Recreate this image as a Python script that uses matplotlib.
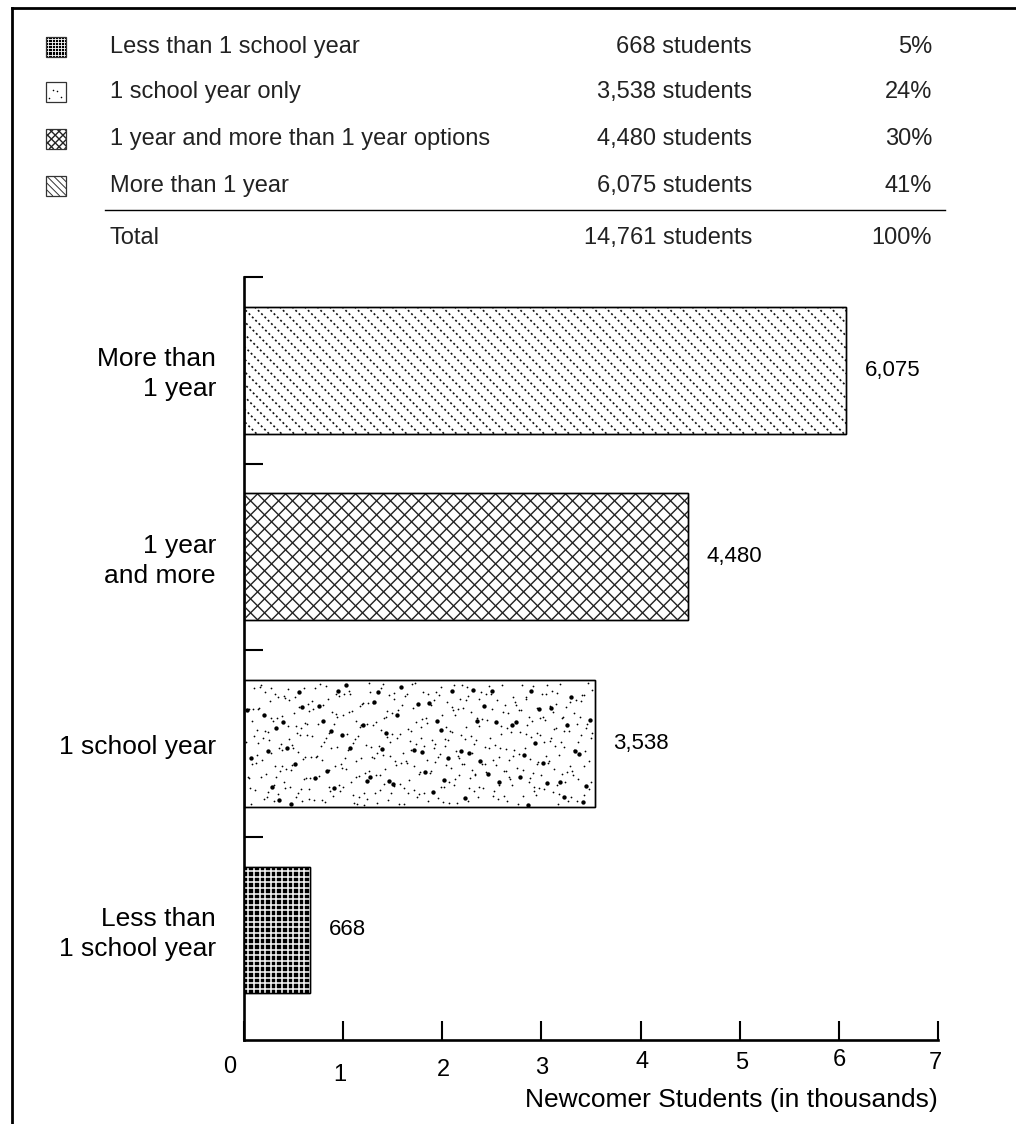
import numpy as np
import matplotlib
matplotlib.use("Agg")
import matplotlib.pyplot as plt
from matplotlib.patches import Rectangle
from matplotlib.collections import LineCollection
from matplotlib.lines import Line2D
from matplotlib.transforms import blended_transform_factory

# ---------------- data ----------------
categories = ["Less than\n1 school year", "1 school year", "1 year\nand more", "More than\n1 year"]
values = [668, 3538, 4480, 6075]
value_labels = ["668", "3,538", "4,480", "6,075"]

legend_names = ["Less than 1 school year", "1 school year only",
                "1 year and more than 1 year options", "More than 1 year"]
legend_counts = ["668 students", "3,538 students", "4,480 students", "6,075 students"]
legend_pcts = ["5%", "24%", "30%", "41%"]
total_name = "Total"
total_count = "14,761 students"
total_pct = "100%"

xtick_values = [0, 1, 2, 3, 4, 5, 6, 7]
xtick_labels = ["0", "1", "2", "3", "4", "5", "6", "7"]
xlabel = "Newcomer Students (in thousands)"

patterns = ["grid", "dots", "cross", "diag"]   # bar style per category (bottom to top)

# ---------------- layout (pixels) ----------------
W, H = 1016, 1124
plt.rcParams['font.family'] = ['Liberation Sans', 'DejaVu Sans']
fig = plt.figure(figsize=(W / 100, H / 100), dpi=100)

FS_LEG = 17.0
FS_CAT = 19.0
FS_VAL = 16.0
FS_TICK = 17.0
FS_XLAB = 19.0


def fx(px):
    return px / W


def fy(py):
    return 1 - py / H


ax_left, ax_right, ax_top, ax_bottom = 244, 938, 277, 1040
ax = fig.add_axes([fx(ax_left), fy(ax_bottom), fx(ax_right - ax_left), (ax_bottom - ax_top) / H])
ax.set_xlim(0, 7)
ax.set_ylim(-0.59, 3.5)
fig.canvas.draw()


def px_to_data(a, pts):
    return a.transData.inverted().transform(pts)


def apply_pattern(a, rect, kind, scale=1.0):
    """Draw a texture clipped to rect (pattern computed in pixel space)."""
    bb = rect.get_window_extent(fig.canvas.get_renderer())
    x0, y0, x1, y1 = bb.x0, bb.y0, bb.x1, bb.y1
    w, h = x1 - x0, y1 - y0
    arts = []
    if kind == "grid":
        rect.set_facecolor("black")
        step = 5.6 * scale
        segs = []
        xs = np.arange(x0 + step * 0.8, x1, step)
        ys = np.arange(y0 + step * 0.8, y1, step)
        for xv in xs:
            segs.append([(xv, y0), (xv, y1)])
        for yv in ys:
            segs.append([(x0, yv), (x1, yv)])
        segs = [px_to_data(a, np.array(s)) for s in segs]
        arts.append(LineCollection(segs, colors="white", linewidths=1.1 * scale, zorder=3))
    elif kind == "cross":
        step = 14.0 * scale
        segs = []
        for c in np.arange(x0 - h - step, x1 + h + step, step):
            segs.append([(c, y0), (c + h, y1)])
            segs.append([(c, y1), (c + h, y0)])
        segs = [px_to_data(a, np.array(s)) for s in segs]
        arts.append(LineCollection(segs, colors="#222222", linewidths=1.0, zorder=3))
    elif kind == "diag":
        step = 12.5 * scale
        segs = []
        for c in np.arange(x0 - h - step, x1 + h + step, step):
            segs.append([(c, y1), (c + h, y0)])
        segs = [px_to_data(a, np.array(s)) for s in segs]
        if scale < 1:
            arts.append(LineCollection(segs, colors="#333333", linewidths=0.7, zorder=3))
        else:
            arts.append(LineCollection(segs, colors="#111111", linewidths=1.2,
                                       linestyles=[(0, (1.2, 1.6))], zorder=3))
    elif kind == "dots":
        n_small = int(w * h / 95)
        n_big = int(w * h / 650)
        a1, a2 = 0.7548776662466927, 0.5698402909980532
        k = np.arange(1, n_small + n_big + 1)
        u = (0.31 + k * a1) % 1.0
        v = (0.17 + k * a2 + 0.37 * np.sin(k * 1.7)) % 1.0
        pts = np.column_stack([x0 + 2 + u * (w - 4), y0 + 2 + v * (h - 4)])
        dat = px_to_data(a, pts)
        big = (k % 7) == 0
        s_small = 1.6 * max(scale, 0.8)
        s_big = 4.5 * max(scale, 0.8)
        arts.append(a.scatter(dat[~big, 0], dat[~big, 1], s=s_small, c="black",
                              linewidths=0, zorder=3))
        arts.append(a.scatter(dat[big, 0], dat[big, 1], s=s_big * 2.2, c="black",
                              linewidths=0, zorder=3))
    for art in arts:
        if isinstance(art, LineCollection):
            a.add_collection(art)
        art.set_clip_path(rect)


# ---------------- bars ----------------
ypos = np.arange(len(categories))
bars = ax.barh(ypos, np.array(values) / 1000.0, height=0.68, color="white",
               edgecolor="black", linewidth=1.0, zorder=2)
for b, kind in zip(bars, patterns):
    apply_pattern(ax, b, kind)
    ax.add_patch(Rectangle(b.get_xy(), b.get_width(), b.get_height(), fill=False,
                           edgecolor="black", linewidth=1.0, zorder=4))

for y, v, lab in zip(ypos, values, value_labels):
    ax.annotate(lab, (v / 1000.0, y), xytext=(13.5, 0), textcoords="offset points",
                ha="left", va="center", fontsize=FS_VAL, color="black")

trans_cat = blended_transform_factory(fig.transFigure, ax.transData)
for y, c in zip(ypos, categories):
    ax.text(fx(216), y - 0.02, c, transform=trans_cat, ha="right", va="center",
            multialignment="right", fontsize=FS_CAT, linespacing=1.32, color="black")

# ---------------- axes styling ----------------
for s in ["top", "right"]:
    ax.spines[s].set_visible(False)
for s in ["left", "bottom"]:
    ax.spines[s].set_linewidth(1.9)
ax.set_yticks([0.5, 1.5, 2.5, 3.5])
ax.set_yticklabels([])
ax.set_xticks(xtick_values)
ax.set_xticklabels([])
ax.tick_params(axis="both", direction="in", length=14, width=1.5)
ax.tick_params(axis="x", labelbottom=False)

# staggered tick labels (as in the original print)
label_dx = [-14, -3, 1, 0, 1, 2, 1, -3]
label_y = [1067, 1075, 1070, 1068, 1062, 1063, 1060, 1063]
trans_tick = blended_transform_factory(ax.transData, fig.transFigure)
for xv, lab, dx, py in zip(xtick_values, xtick_labels, label_dx, label_y):
    ax.text(xv + dx / 99.14, fy(py), lab, transform=trans_tick, ha="center", va="center",
            fontsize=FS_TICK, color="black")
fig.text(fx(938), fy(1100), xlabel, ha="right", va="center", fontsize=FS_XLAB, color="black")

# ---------------- legend table ----------------
row_y = [47, 92, 139, 186]
icon_size = 20
for py, name, cnt, pct, kind in zip(row_y, legend_names, legend_counts, legend_pcts, patterns):
    iax = fig.add_axes([fx(46), fy(py + icon_size / 2), icon_size / W, icon_size / H])
    iax.set_xlim(0, 1)
    iax.set_ylim(0, 1)
    iax.axis("off")
    r = Rectangle((0, 0), 1, 1, facecolor="white", edgecolor="none", zorder=2)
    iax.add_patch(r)
    fig.canvas.draw()
    apply_pattern(iax, r, kind, scale=0.55)
    iax.add_patch(Rectangle((0, 0), 1, 1, fill=False, edgecolor="#333333", linewidth=0.9,
                            zorder=5, clip_on=False))
    fig.text(fx(110), fy(py), name, ha="left", va="center", fontsize=FS_LEG, color="#222222")
    fig.text(fx(752), fy(py), cnt, ha="right", va="center", fontsize=FS_LEG, color="#222222")
    fig.text(fx(932), fy(py), pct, ha="right", va="center", fontsize=FS_LEG, color="#222222")

fig.add_artist(Line2D([fx(105), fx(945)], [fy(210), fy(210)], transform=fig.transFigure,
                      color="black", linewidth=1.0))
fig.text(fx(110), fy(238), total_name, ha="left", va="center", fontsize=FS_LEG, color="#222222")
fig.text(fx(752), fy(238), total_count, ha="right", va="center", fontsize=FS_LEG, color="#222222")
fig.text(fx(932), fy(238), total_pct, ha="right", va="center", fontsize=FS_LEG, color="#222222")

# ---------------- page frame ----------------
fig.add_artist(Line2D([fx(12), 1.0], [fy(7.5), fy(7.5)], transform=fig.transFigure,
                      color="black", linewidth=2.0, solid_capstyle="projecting"))
fig.add_artist(Line2D([fx(12), fx(12)], [fy(7.5), 0.0], transform=fig.transFigure,
                      color="black", linewidth=2.0, solid_capstyle="projecting"))

fig.savefig("out.png", dpi=100)
